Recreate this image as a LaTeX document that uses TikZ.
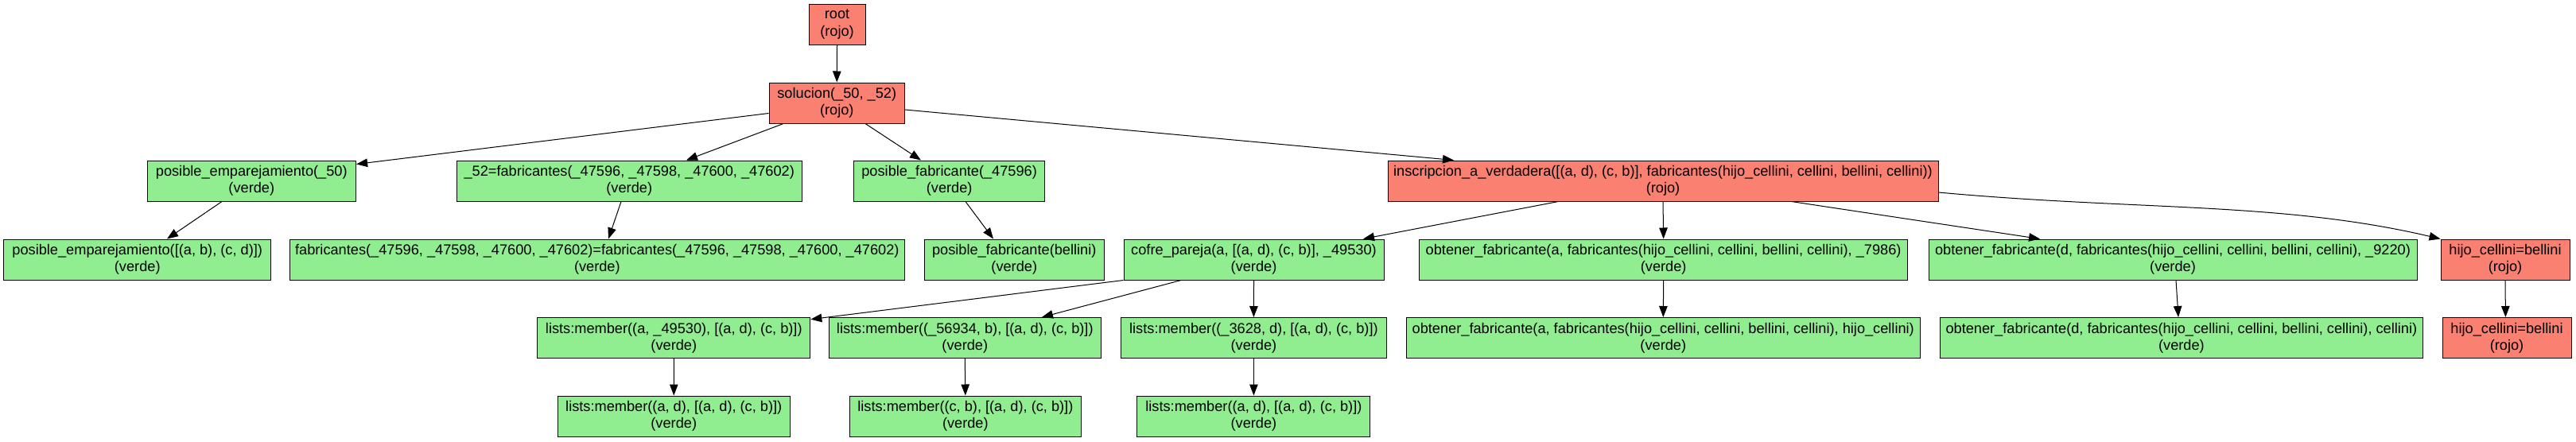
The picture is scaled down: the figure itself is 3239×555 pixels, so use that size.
\documentclass[tikz,border=0pt]{standalone}
\usepackage{fontspec}
\setmainfont{Liberation Sans}
\usetikzlibrary{arrows.meta,calc}
\definecolor{salmonc}{HTML}{FA8072}
\definecolor{lgreen}{HTML}{90EE90}
\newcommand{\lblfont}{\fontsize{18.2}{21.3}\selectfont}
\begin{document}
\begin{tikzpicture}[x=1pt,y=-1pt,
  box/.style={draw=black, line width=1pt, minimum height=51pt, inner sep=0pt, align=center, font=\lblfont},
  rojobox/.style={box, fill=salmonc},
  verdebox/.style={box, fill=lgreen},
  conn/.style={draw=black, line width=1pt, -{Triangle[length=14pt,width=10.5pt]}}]
\useasboundingbox (0,0) rectangle (3239,555);
\fill[white] (0,0) rectangle (3239,555);
% row 0
\node[rojobox, minimum width=71pt] (root) at (1052.5,30.5) {root\\(rojo)};
% row 1
\node[rojobox, minimum width=170.5pt] (sol) at (1052.25,129.5) {solucion(\_50, \_52)\\(rojo)};
% row 2
\node[verdebox, minimum width=262.6pt] (pe50) at (316.3,227.5) {posible\_emparejamiento(\_50)\\(verde)};
\node[verdebox, minimum width=433.5pt] (s52) at (791.25,227.5) {\_52=fabricantes(\_47596, \_47598, \_47600, \_47602)\\(verde)};
\node[verdebox, minimum width=240pt] (pf) at (1193.65,227.5) {posible\_fabricante(\_47596)\\(verde)};
\node[rojobox, minimum width=692pt] (insc) at (2091,227.5) {inscripcion\_a\_verdadera([(a, d), (c, b)], fabricantes(hijo\_cellini, cellini, bellini, cellini))\\(rojo)};
% row 3
\node[verdebox, minimum width=335.7pt] (pe2) at (172.75,326.5) {posible\_emparejamiento([(a, b), (c, d)])\\(verde)};
\node[verdebox, minimum width=772.3pt] (fab) at (750.85,326.5) {fabricantes(\_47596, \_47598, \_47600, \_47602)=fabricantes(\_47596, \_47598, \_47600, \_47602)\\(verde)};
\node[verdebox, minimum width=226.5pt] (pfb) at (1275.25,326.5) {posible\_fabricante(bellini)\\(verde)};
\node[verdebox, minimum width=327pt] (cofre) at (1576.5,326.5) {cofre\_pareja(a, [(a, d), (c, b)], \_49530)\\(verde)};
\node[verdebox, minimum width=614pt] (oba) at (2091.65,326.5) {obtener\_fabricante(a, fabricantes(hijo\_cellini, cellini, bellini, cellini), \_7986)\\(verde)};
\node[verdebox, minimum width=614pt] (obd) at (2732,326.5) {obtener\_fabricante(d, fabricantes(hijo\_cellini, cellini, bellini, cellini), \_9220)\\(verde)};
\node[rojobox, minimum width=162pt] (hijoa) at (3150,326.5) {hijo\_cellini=bellini\\(rojo)};
% row 4
\node[verdebox, minimum width=343pt] (la) at (847.3,425) {lists:member((a, \_49530), [(a, d), (c, b)])\\(verde)};
\node[verdebox, minimum width=341.4pt] (lb) at (1213.3,425) {lists:member((\_56934, b), [(a, d), (c, b)])\\(verde)};
\node[verdebox, minimum width=334pt] (lc) at (1576.4,425) {lists:member((\_3628, d), [(a, d), (c, b)])\\(verde)};
\node[verdebox, minimum width=646.6pt] (obab) at (2091.3,425) {obtener\_fabricante(a, fabricantes(hijo\_cellini, cellini, bellini, cellini), hijo\_cellini)\\(verde)};
\node[verdebox, minimum width=607.8pt] (obdb) at (2742.9,425) {obtener\_fabricante(d, fabricantes(hijo\_cellini, cellini, bellini, cellini), cellini)\\(verde)};
\node[rojobox, minimum width=162pt] (hijob) at (3152,425) {hijo\_cellini=bellini\\(rojo)};
% row 5
\node[verdebox, minimum width=292.5pt] (lad) at (847.25,523.5) {lists:member((a, d), [(a, d), (c, b)])\\(verde)};
\node[verdebox, minimum width=291.7pt] (lbd) at (1213.85,523.5) {lists:member((c, b), [(a, d), (c, b)])\\(verde)};
\node[verdebox, minimum width=293pt] (lcd) at (1576.4,523.5) {lists:member((a, d), [(a, d), (c, b)])\\(verde)};
% edges
\draw[conn] (root.south) -- (sol.north);
\draw[conn] ($(sol.south west)+(0,-13)$) -- ($(pe50.north east)+(0,5)$);
\draw[conn] ($(sol.south west)+(18.6,0)$) -- ($(s52.north)+(71.75,0)$);
\draw[conn] ($(sol.south)+(35.75,0)$) -- ($(pf.north)+(-35.65,0)$);
\draw[conn] ($(sol.east)+(0,8.5)$) -- ($(insc.north)+(-263,0)$);
\draw[conn] ($(pe50.south)+(-37.3,0)$) -- ($(pe2.north)+(37.25,0)$);
\draw[conn] ($(s52.south)+(-10.25,0)$) -- ($(fab.north)+(14.15,0)$);
\draw[conn] ($(pf.south)+(20.35,0)$) -- ($(pfb.north)+(-26.25,0)$);
\draw[conn] ($(insc.south)+(-131.6,0)$) -- ($(cofre.north)+(137.5,0)$);
\draw[conn] (insc.south) -- (oba.north);
\draw[conn] ($(insc.south)+(161.5,0)$) -- ($(obd.north)+(-167,0)$);
\draw[conn] ($(insc.east)+(0,14.5)$) .. controls +(250,23) and +(-200,-47) .. (hijoa.north west);
\draw[conn] (cofre.south west) -- ($(la.north east)+(0,2.7)$);
\draw[conn] ($(cofre.south)+(-91.5,0)$) -- ($(lb.north)+(96.7,0)$);
\draw[conn] (cofre.south) -- (lc.north);
\draw[conn] (la.south) -- (lad.north);
\draw[conn] (lb.south) -- (lbd.north);
\draw[conn] (lc.south) -- (lcd.north);
\draw[conn] (oba.south) -- (obab.north);
\draw[conn] ($(obd.south)+(4,0)$) -- ($(obdb.north)+(-3.9,0)$);
\draw[conn] (hijoa.south) -- ($(hijob.north)+(-1.6,0)$);
\end{tikzpicture}
\end{document}
